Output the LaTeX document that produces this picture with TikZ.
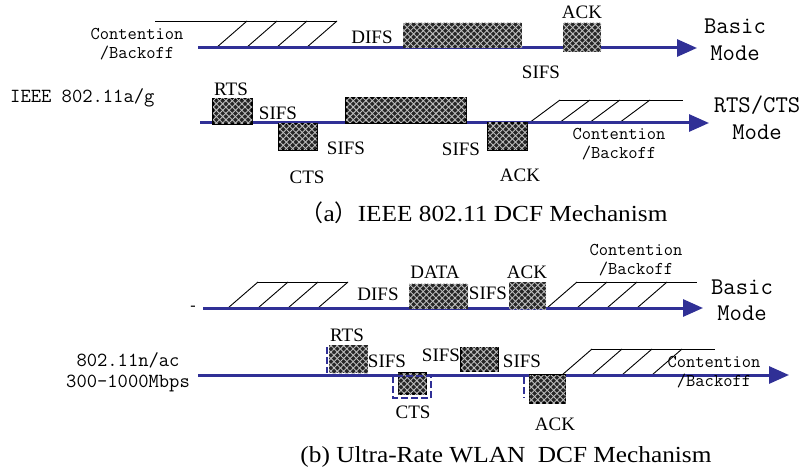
\documentclass[tikz,border=0pt]{standalone}
\usepackage{fontspec}
\setmainfont{Liberation Serif}
\newfontfamily\cjkf{Noto Sans CJK SC}
\usetikzlibrary{arrows.meta,patterns.meta}
\definecolor{lineblue}{RGB}{48,48,150}
\begin{document}
\begin{tikzpicture}[x=1pt,y=-1pt,
  timeline/.style={draw=lineblue, line width=3pt, -{Triangle[length=20pt,width=17pt]}},
  frame/.style={rectangle, inner sep=0pt, outer sep=0pt, fill=black!85,
    postaction={pattern={Lines[angle=45,distance=4.5pt,line width=0.9pt]}, pattern color=white!75!black},
    postaction={pattern={Lines[angle=-45,distance=4.5pt,line width=0.9pt]}, pattern color=white!75!black}},
  framed/.style={frame, draw=black, line width=1.6pt},
  lbl/.style={font=\fontsize{19}{19}\selectfont, inner sep=0pt},
  captxt/.style={font=\addfontfeature{FakeStretch=1.1}\fontsize{23}{23}\selectfont, inner sep=0pt},
  mono/.style={font=\ttfamily\fontsize{18}{19}\selectfont, align=center, inner sep=0pt},
  monobig/.style={font=\ttfamily\fontsize{24}{27}\selectfont, align=center, inner sep=0pt},
  monomid/.style={font=\ttfamily\fontsize{20}{21}\selectfont, align=center, inner sep=0pt},
  hatch/.style={draw=black, line width=0.9pt},
  dashedge/.style={draw=lineblue, line width=2.5pt, dash pattern=on 7pt off 3pt}
]
\useasboundingbox (0,0) rectangle (802,473);

% ---------------- (a) Basic mode ----------------
\draw[hatch] (155,21) -- (337,21);
\foreach \b in {216,246,276,306} \draw[hatch] (\b,48) -- (\b+31,21);
\coordinate (a1s) at (198,48);
\coordinate (a1e) at (697,48);
\draw[timeline] (a1s) -- (a1e);
\node[frame, minimum width=119pt, minimum height=25pt] (dataA1) at (462.5,35.5) {};
\node[frame, minimum width=38pt, minimum height=29pt] (ackA1) at (582,37.5) {};
\node[mono] (contA1) at (137,44) {Contention\\/Backoff};
\node[lbl] (difsA1) at (372,37) {DIFS};
\node[lbl] (ackA1l) at (582,12) {ACK};
\node[lbl] (sifsA1) at (541,72) {SIFS};
\node[monobig] (basicA) at (735,40) {Basic\\Mode};

% ---------------- (a) RTS/CTS mode ----------------
\node[monomid, anchor=west] (ieee) at (10,98) {IEEE 802.11a/g};
\draw[hatch] (560,100) -- (683,100);
\foreach \b in {529,559,589,619} \draw[hatch] (\b,123) -- (\b+31,100);
\coordinate (a2s) at (200,123);
\coordinate (a2e) at (709,123);
\draw[timeline] (a2s) -- (a2e);
\node[framed, minimum width=39pt, minimum height=25pt] (rtsA) at (232.5,111.5) {};
\node[framed, minimum width=38pt, minimum height=26pt] (ctsA) at (298,137) {};
\node[framed, minimum width=120pt, minimum height=25pt] (dataA2) at (406,110.5) {};
\node[framed, minimum width=39pt, minimum height=27pt] (ackA2) at (507.5,136.5) {};
\node[lbl] (rtsAl) at (231,89) {RTS};
\node[lbl] (sifsA2) at (278,113) {SIFS};
\node[lbl] (ctsAl) at (307,177) {CTS};
\node[lbl] (sifsA3) at (346,148) {SIFS};
\node[lbl] (sifsA4) at (461,149) {SIFS};
\node[lbl] (ackA2l) at (520,175) {ACK};
\node[mono] (contA2) at (619,144) {Contention\\/Backoff};
\node[monobig] (rtsctsA) at (757,118) {RTS/CTS\\Mode};

\node[captxt] (capA) at (484,213) {{\cjkf（}a{\cjkf）}IEEE 802.11 DCF Mechanism};

% ---------------- (b) Basic mode ----------------
\node[lbl, font=\fontsize{16}{16}\selectfont] (dash) at (193,308) {-};
\draw[hatch] (258,282) -- (348,282);
\foreach \b in {228,258,288,318} \draw[hatch] (\b,308) -- (\b+30,282);
\draw[hatch] (577,282) -- (697,282);
\foreach \b in {547,577,607,637} \draw[hatch] (\b,308) -- (\b+30,282);
\coordinate (b1s) at (203,308);
\coordinate (b1e) at (703,308);
\draw[timeline] (b1s) -- (b1e);
\node[frame, minimum width=59pt, minimum height=25pt] (dataB1) at (438.5,296) {};
\node[frame, minimum width=37pt, minimum height=27pt] (ackB1) at (527.5,295.5) {};
\node[lbl] (difsB1) at (378,294) {DIFS};
\node[lbl] (dataB1l) at (435,272) {DATA};
\node[lbl] (sifsB1) at (488,293) {SIFS};
\node[lbl] (ackB1l) at (527,272) {ACK};
\node[mono] (contB1) at (636,260) {Contention\\/Backoff};
\node[monobig, font=\ttfamily\fontsize{24}{26}\selectfont] (basicB) at (742,300) {Basic\\Mode};

% ---------------- (b) Ultra-rate ----------------
\node[monomid] (rate) at (128,372) {802.11n/ac\\300-1000Mbps};
\draw[hatch] (592,349) -- (715,349);
\foreach \b in {562,592,622,652} \draw[hatch] (\b,375) -- (\b+30,349);
\coordinate (b2s) at (198,375);
\coordinate (b2e) at (789,375);
\draw[timeline] (b2s) -- (b2e);
\node[frame, minimum width=39pt, minimum height=28pt] (rtsB) at (348.5,359) {};
\node[framed, minimum width=28pt, minimum height=21pt] (ctsB) at (412.5,383.5) {};
\node[framed, minimum width=37pt, minimum height=24pt] (dataB2) at (479.5,359.5) {};
\node[framed, minimum width=36pt, minimum height=28pt] (ackB2) at (547.5,389) {};
\coordinate (rtsDa) at (327,347); \coordinate (rtsDb) at (327,373);
\draw[dashedge] (rtsDa) -- (rtsDb);
\coordinate (ctsDa) at (393,376); \coordinate (ctsDb) at (431,398);
\draw[dashedge] (ctsDa) rectangle (ctsDb);
\coordinate (ackDa) at (524,377); \coordinate (ackDb) at (524,398);
\draw[dashedge] (ackDa) -- (ackDb);
\node[lbl] (rtsBl) at (347,335) {RTS};
\node[lbl] (sifsB2) at (387,361) {SIFS};
\node[lbl] (sifsB3) at (441,355) {SIFS};
\node[lbl] (sifsB4) at (522,361) {SIFS};
\node[lbl] (ctsBl) at (413,412) {CTS};
\node[lbl] (ackB2l) at (555,424) {ACK};
\node[mono] (contB2) at (714,372) {Contention\\/Backoff};

\node[captxt] (capB) at (506,457) {(b) Ultra-Rate WLAN\ \ DCF Mechanism};
\end{tikzpicture}
\end{document}
